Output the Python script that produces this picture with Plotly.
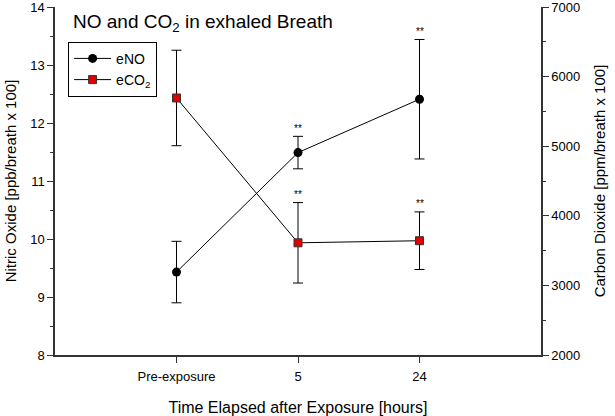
import plotly.graph_objects as go

categories = ["Pre-exposure", "5", "24"]
eno = [9.43, 11.49, 12.41]
eno_err = [0.53, 0.28, 1.03]
eco2 = [5693, 3612, 3642]
eco2_err = [686, 578, 414]
eno_sig = ["", "**", "**"]
eco2_sig = ["", "**", "**"]

xpos = list(range(len(categories)))
FONT = "Liberation Sans, Arial, sans-serif"

fig = go.Figure()
fig.add_trace(go.Scatter(
    x=xpos, y=eno, name="eNO", mode="lines+markers",
    line=dict(color="black", width=1),
    marker=dict(symbol="circle", size=9, color="black"),
    error_y=dict(type="data", array=eno_err, visible=True, color="black", thickness=1, width=5),
))
fig.add_trace(go.Scatter(
    x=xpos, y=eco2, name="eCO<sub>2</sub>", mode="lines+markers", yaxis="y2",
    line=dict(color="black", width=1),
    marker=dict(symbol="square", size=8, color="#e00000", line=dict(color="#333333", width=1)),
    error_y=dict(type="data", array=eco2_err, visible=True, color="black", thickness=1, width=5),
))

anns = []
for i, s in enumerate(eno_sig):
    if s:
        anns.append(dict(x=xpos[i], y=eno[i] + eno_err[i], xref="x", yref="y", text=s,
                         showarrow=False, yshift=8, font=dict(size=10, color="#000000", family=FONT)))
for i, s in enumerate(eco2_sig):
    if s:
        anns.append(dict(x=xpos[i], y=eco2[i] + eco2_err[i], xref="x", yref="y2", text=s,
                         showarrow=False, yshift=8, font=dict(size=10, color="#000000", family=FONT)))
anns.append(dict(x=0.033, y=0.955, xref="paper", yref="paper", xanchor="left", yanchor="middle",
                 text="NO and CO<sub>2</sub> in exhaled Breath", showarrow=False,
                 font=dict(size=19, color="black", family=FONT)))

axis_common = dict(showgrid=False, zeroline=False, ticks="outside", ticklen=6, tickcolor="#333",
                   showline=True, linecolor="#333", linewidth=1.5, automargin=False,
                   ticklabeloverflow="allow",
                   tickfont=dict(size=13, color="black", family=FONT))

fig.update_layout(
    width=615, height=416,
    margin=dict(l=55, r=74, t=7, b=61),
    plot_bgcolor="white", paper_bgcolor="white",
    font=dict(family=FONT, color="black"),
    showlegend=True,
    legend=dict(x=0.027, y=0.9, xanchor="left", yanchor="top", bordercolor="black", borderwidth=1,
                bgcolor="white", font=dict(size=14, family=FONT), itemwidth=37),
    xaxis=dict(**axis_common, range=[-1, 3], tickvals=xpos, ticktext=categories, ticklabelstandoff=3,
               title=dict(text="Time Elapsed after Exposure [hours]", font=dict(size=16, family=FONT), standoff=18)),
    yaxis=dict(**axis_common, range=[8, 14], dtick=1,
               minor=dict(dtick=0.5, ticks="outside", ticklen=3, tickcolor="#333"),
               title=dict(text="Nitric Oxide [ppb/breath x 100]", font=dict(size=15, family=FONT), standoff=10)),
    yaxis2=dict(**axis_common, range=[2000, 7000], dtick=1000, overlaying="y", side="right",
                minor=dict(dtick=500, ticks="outside", ticklen=3, tickcolor="#333"),
                title=dict(text="Carbon Dioxide [ppm/breath x 100]", font=dict(size=15, family=FONT), standoff=15)),
    annotations=anns,
)

fig.write_html("out.html", config={"displayModeBar": False},
               post_script="document.body.style.margin='0px';document.body.style.overflow='hidden';")
